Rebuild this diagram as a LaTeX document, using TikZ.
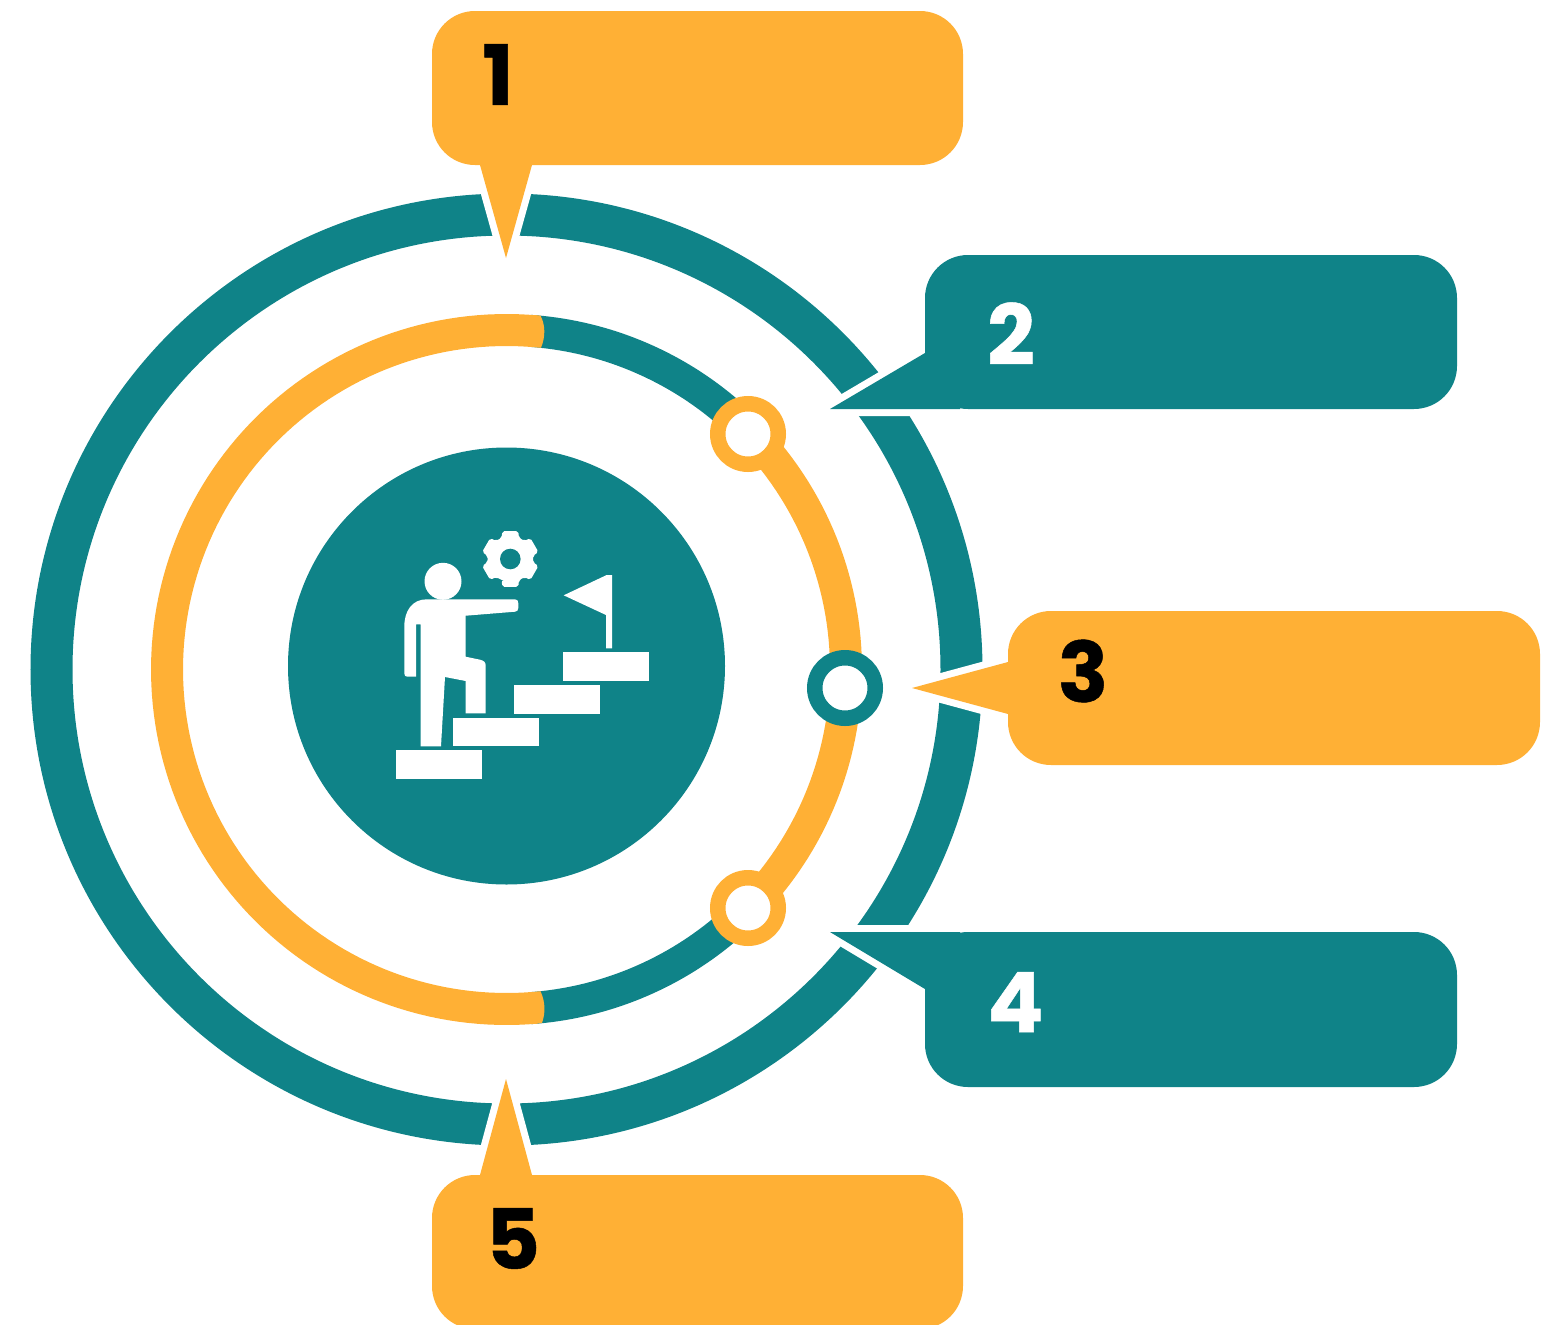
\documentclass[tikz,border=0pt]{standalone}
\usepackage{fontspec}
\usepackage{xcolor}
\usetikzlibrary{calc}
\newfontfamily\numfont{Poppins Bold}[FakeBold=0.6]
\definecolor{tealc}{HTML}{0F8388}
\definecolor{orangec}{HTML}{FFB035}
% colour, box corners, tail
\newcommand{\callout}[4]{
 \path[gapline,rounded corners=43*0.75pt] #2 rectangle #3;
 \path[gapline] #4 -- cycle;
 \fill[#1,rounded corners=43*0.75pt] #2 rectangle #3;
 \fill[#1] #4 -- cycle;
}
\begin{document}
\begin{tikzpicture}[x=0.75pt,y=-0.75pt,
  ringarc/.style = {line width=32*0.75pt},
  gapline/.style = {draw=white,line width=14*0.75pt,line join=round},
  marker/.style = {circle,fill=white,inner sep=0pt,minimum size=60.5*0.75pt,line width=15.5*0.75pt},
  stepbox/.style = {fill=white,inner sep=0pt,minimum width=86*0.75pt,minimum height=28.5*0.75pt},
  num/.style = {inner sep=0pt,font=\numfont\fontsize{62.5}{62.5}\selectfont}]
 \useasboundingbox (0,0) rectangle (1561,1325);
 \coordinate (o) at (506.5,669.5);
 \coordinate (gear) at (510.3,559);
 % outer ring
 \draw[tealc,line width=42*0.75pt] (o) circle[radius=455];
 % callouts
 \callout{orangec}{(432,11)}{(963,165)}{(480,160) -- (480,165) -- (506,258) -- (532,165) -- (532,160)}
 \callout{tealc}{(925,255)}{(1457,409)}{(960,353) -- (925,353) -- (830,409) -- (960,409)}
 \callout{orangec}{(1008,611)}{(1540,765)}{(1040,662) -- (1008,662) -- (912,688) -- (1008,714) -- (1040,714)}
 \callout{tealc}{(925,932)}{(1457,1087)}{(960,989) -- (925,989) -- (830,932) -- (960,932)}
 \callout{orangec}{(432,1175)}{(963,1329)}{(480,1180) -- (480,1175) -- (506,1079) -- (532,1175) -- (532,1180)}
 \node[num,text=black] (n1) at (498,74.5) {1};
 \node[num,text=white] (n2) at (1011,333.5) {2};
 \node[num,text=black] (n3) at (1083,671) {3};
 \node[num,text=white] (n4) at (1015.5,1002) {4};
 \node[num,text=black] (n5) at (513,1238.5) {5};
 % inner ring
 \draw[ringarc,tealc] plot[domain=-86:-44,samples=40] ({506.5+339.5*cos(\x)},{669.5+339.5*sin(\x)});
 \draw[ringarc,tealc] plot[domain=44:86,samples=40] ({506.5+339.5*cos(\x)},{669.5+339.5*sin(\x)});
 \draw[ringarc,orangec] plot[domain=85:275,samples=120] ({506.5+339.5*cos(\x)},{669.5+339.5*sin(\x)});
 \draw[ringarc,orangec] plot[domain=-44:44,samples=60] ({506.5+339.5*cos(\x)},{669.5+339.5*sin(\x)});
 \fill[orangec] (535,315.1) -- (540.5,315.6) .. controls (545.5,325) and (545.5,337) .. (541,347.8) -- (535,347.3) -- cycle;
 \fill[orangec] (535,1023.9) -- (542,1023) .. controls (545.5,1013) and (545.5,1002) .. (540.5,991.2) -- (535,991.7) -- cycle;
 \node[marker,draw=orangec] (m1) at (748,434) {};
 \node[marker,draw=tealc] (m2) at (845,688) {};
 \node[marker,draw=orangec] (m3) at (748,908) {};
 % hub and icon
 \node[circle,fill=tealc,inner sep=0pt,minimum size=437*0.75pt] (hub) at (506.5,666) {};
 \node[stepbox] (s1) at (439,764.5) {};
 \node[stepbox] (s2) at (496,732) {};
 \node[stepbox] (s3) at (557,699.3) {};
 \node[stepbox] (s4) at (606,666.3) {};
 \fill[white] (612,575) -- (606.7,575) -- (563.7,595.3) -- (606,615) -- (606,648.3) -- (612,648.3) -- cycle;
 \node[circle,fill=white,inner sep=0pt,minimum size=37*0.75pt] (head) at (443,581.3) {};
 \fill[white] (426.7,599.3) -- (515,599.3) .. controls (517.5,599.3) and (518.3,601) .. (518.3,603.3)
   -- (518.3,608) .. controls (518.3,610.5) and (517,611.5) .. (515,611.7)
   -- (465.7,615.7) -- (465.7,656.7) -- (480,659.7) .. controls (483.5,660.5) and (485.7,662) .. (485.7,665.5)
   -- (485.7,713.3) -- (465.7,713.3) -- (465.7,681) -- (445,677) -- (441,746.3) -- (420.7,746.3)
   -- (420.7,624.3) -- (416,624.3) -- (416,676.7) -- (407.3,676.7) .. controls (405.3,676.7) and (404.3,675.5) .. (404.3,673.3)
   -- (404.3,626.7) .. controls (404.3,611) and (412,599.3) .. (426.7,599.3) -- cycle;
 \fill[white,rounded corners=2*0.75pt] ($(gear)+(100:23.5)$) \foreach \a in {90,30,-30,-90,-150,-210} {
   -- ($(gear)+(\a+22:23)$) -- ($(gear)+(\a+16:29)$) -- ($(gear)+(\a-16:29)$) -- ($(gear)+(\a-22:23)$) } -- cycle;
 \node[circle,fill=tealc,inner sep=0pt,minimum size=20.6*0.75pt] (hole) at (gear) {};
\end{tikzpicture}
\end{document}
